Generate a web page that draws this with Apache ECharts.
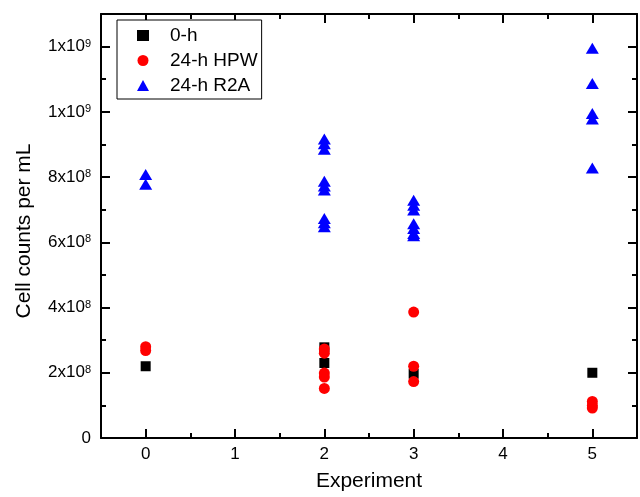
<!DOCTYPE html>
<html>
<head>
<meta charset="utf-8">
<script src="https://cdn.jsdelivr.net/npm/echarts@6/dist/echarts.min.js"></script>
<style>
html,body{margin:0;padding:0;background:#fff;}
#chart{width:640px;height:497px;}
</style>
</head>
<body>
<div id="chart"></div>
<script>
// ---- data ----
const seriesNames = ['0-h', '24-h HPW', '24-h R2A'];

const h0Experiment = [0, 2, 2, 3, 5];
const h0Counts = [2.2e8, 2.78e8, 2.3e8, 1.97e8, 2.0e8];

const hpwExperiment = [0, 0, 2, 2, 2, 2, 2, 3, 3, 3, 5, 5, 5];
const hpwCounts = [2.80e8, 2.68e8, 2.73e8, 2.60e8, 1.99e8, 1.87e8, 1.52e8, 3.86e8, 2.20e8, 1.73e8, 1.12e8, 1.00e8, 0.92e8];

const r2aExperiment = [0, 0, 2, 2, 2, 2, 2, 2, 2, 2, 2, 3, 3, 3, 3, 3, 3, 3, 5, 5, 5, 5, 5];
const r2aCounts = [8.08e8, 7.78e8,
  9.17e8, 9.02e8, 8.85e8, 7.87e8, 7.73e8, 7.60e8, 6.73e8, 6.60e8, 6.48e8,
  7.29e8, 7.14e8, 6.99e8, 6.57e8, 6.42e8, 6.27e8, 6.20e8,
  1.195e9, 1.087e9, 0.995e9, 0.978e9, 8.28e8];

const xTickValues = [0, 1, 2, 3, 4, 5];
const xMinorTickValues = [0.5, 1.5, 2.5, 3.5, 4.5];
const yTickValues = [0, 2e8, 4e8, 6e8, 8e8, 1e9, 1.2e9];
const yTickLabels = ['0', '2x10^8', '4x10^8', '6x10^8', '8x10^8', '1x10^9', '1x10^9'];
const yMinorTickValues = [1e8, 3e8, 5e8, 7e8, 9e8, 1.1e9];

const xTitle = 'Experiment';
const yTitle = 'Cell counts per mL';

// ---- chart ----
const FONT = 'Arial, "Liberation Sans", sans-serif';
const xMin = -0.5, xMax = 5.5, yMin = 0, yMax = 1.3e9;

function pairs(xs, ys) { return xs.map((x, i) => [x, ys[i]]); }

const lineStyle = { color: '#000', width: 2 };

function xAxisDef(pos, main, minor) {
  return {
    type: 'value', position: pos, min: xMin, max: xMax,
    axisLine: { show: main, onZero: false, lineStyle: lineStyle },
    axisTick: { show: true, inside: true, length: minor ? 5 : 9, lineStyle: { color: '#000', width: 2 },
      customValues: minor ? xMinorTickValues : xTickValues },
    axisLabel: { show: false },
    splitLine: { show: false }
  };
}
function yAxisDef(pos, main, minor) {
  return {
    type: 'value', position: pos, min: yMin, max: yMax,
    axisLine: { show: main, onZero: false, lineStyle: lineStyle },
    axisTick: { show: true, inside: true, length: minor ? 5 : 9, lineStyle: { color: '#000', width: 2 },
      customValues: minor ? yMinorTickValues : yTickValues },
    axisLabel: { show: false },
    splitLine: { show: false }
  };
}

const xMain = xAxisDef('bottom', true, false);
xMain.axisLabel = {
  show: true, customValues: xTickValues, color: '#000', fontSize: 17, fontFamily: FONT, margin: 8,
  formatter: v => String(Math.round(v))
};
xMain.name = xTitle;
xMain.nameLocation = 'middle';
xMain.nameGap = 33;
xMain.nameTextStyle = { color: '#000', fontSize: 21, fontFamily: FONT };

const yMain = yAxisDef('left', true, false);
yMain.axisLabel = {
  show: true, customValues: yTickValues, color: '#000', fontFamily: FONT, margin: 10,
  formatter: function (v) {
    const idx = yTickValues.findIndex(t => Math.abs(t - v) < 1);
    if (idx < 0) return '';
    const parts = yTickLabels[idx].split('^');
    if (parts.length === 1) return '{b|' + parts[0] + '}';
    return '{b|' + parts[0] + '}{s|' + parts[1] + '}';
  },
  rich: {
    b: { fontSize: 17, fontFamily: FONT, color: '#000', lineHeight: 17 },
    s: { fontSize: 11, fontFamily: FONT, color: '#000', verticalAlign: 'top', lineHeight: 11 }
  }
};
yMain.name = yTitle;
yMain.nameLocation = 'middle';
yMain.nameGap = 66;
yMain.nameTextStyle = { color: '#000', fontSize: 21, fontFamily: FONT, padding: [0, 10, 0, 0] };

const option = {
  animation: false,
  backgroundColor: '#fff',
  grid: { left: 101, right: 3, top: 14, bottom: 58, containLabel: false },
  legend: {
    data: seriesNames,
    orient: 'vertical',
    left: 117, top: 20,
    itemWidth: 12, itemHeight: 11, itemGap: 6,
    padding: [6, 4, 4, 20],
    borderColor: '#000', borderWidth: 1,
    backgroundColor: '#fff',
    textStyle: { color: '#000', fontSize: 19, fontFamily: FONT, padding: [0, 0, 0, 16] },
    selectedMode: false
  },
  xAxis: [xMain, xAxisDef('top', true, false), xAxisDef('bottom', false, true), xAxisDef('top', false, true)],
  yAxis: [yMain, yAxisDef('right', true, false), yAxisDef('left', false, true), yAxisDef('right', false, true)],
  series: [
    { name: seriesNames[0], type: 'scatter', symbol: 'rect', symbolSize: 10,
      itemStyle: { color: '#000000', opacity: 1 }, data: pairs(h0Experiment, h0Counts) },
    { name: seriesNames[1], type: 'scatter', symbol: 'circle', symbolSize: 11,
      itemStyle: { color: '#ff0000', opacity: 1 }, data: pairs(hpwExperiment, hpwCounts) },
    { name: seriesNames[2], type: 'scatter', symbol: 'triangle', symbolSize: [13, 11],
      itemStyle: { color: '#0000ff', opacity: 1 }, data: pairs(r2aExperiment, r2aCounts) }
  ]
};

const chart = echarts.init(document.getElementById('chart'), null, { renderer: 'canvas' });
chart.setOption(option);
</script>
</body>
</html>
